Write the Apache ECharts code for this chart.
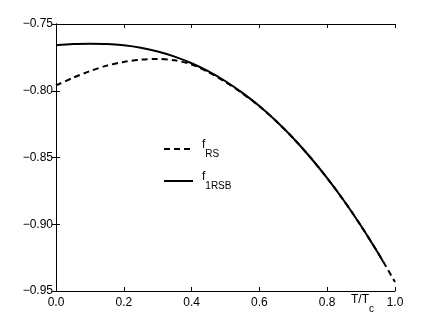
<!DOCTYPE html>
<html>
<head>
<meta charset="utf-8">
<script src="https://cdn.jsdelivr.net/npm/echarts@6/dist/echarts.min.js"></script>
<style>
  html, body { margin: 0; padding: 0; background: #fff; }
  #chart { width: 436px; height: 328px; }
</style>
</head>
<body>
<div id="chart"></div>
<script>
// f_RS (dashed) and f_1RSB (solid) against T/Tc
const rsT = [0, 0.05, 0.1, 0.15, 0.2, 0.25, 0.3, 0.35, 0.4, 0.45, 0.5, 0.55, 0.6, 0.65, 0.7, 0.75, 0.8, 0.85, 0.9, 0.95, 1.0]
const rsF = [-0.7960, -0.7903, -0.7853, -0.7812, -0.7784, -0.7767, -0.7762, -0.7772, -0.7803, -0.7862, -0.7935, -0.8020, -0.8116, -0.8229, -0.8356, -0.8498, -0.8655, -0.8826, -0.9013, -0.9215, -0.9433]
const rsbT = [0, 0.05, 0.1, 0.15, 0.2, 0.25, 0.3, 0.35, 0.4, 0.45, 0.5, 0.55, 0.6, 0.65, 0.7, 0.75, 0.8, 0.85, 0.9, 0.95, 0.965]
const rsbF = [-0.7660, -0.7650, -0.7648, -0.7650, -0.7660, -0.7678, -0.7706, -0.7744, -0.7794, -0.7855, -0.7929, -0.8016, -0.8115, -0.8229, -0.8356, -0.8498, -0.8655, -0.8826, -0.9013, -0.9215, -0.9280]
const xTicks = [0, 0.2, 0.4, 0.6, 0.8, 1.0]
const yTicks = [-0.95, -0.90, -0.85, -0.80, -0.75]

const font = 'Liberation Sans'
const pairs = (xs, ys) => xs.map((x, i) => [x, ys[i]])
const minus = s => s.replace('-', '\u2212')

const frame = {lineStyle: {color: '#000', width: 1}}
const inTick = {inside: true, length: 4, lineStyle: {color: '#000', width: 1}}

const option = {
  animation: false,
  color: ['#000', '#000'],
  grid: {left: 56, right: 41, top: 24, bottom: 37},
  legend: {
    orient: 'vertical',
    left: 158,
    top: 134,
    itemWidth: 29,
    itemHeight: 12,
    itemGap: 12,
    data: ['rs', 'rsb'],
    itemStyle: {color: 'rgba(0,0,0,0)', opacity: 0, borderWidth: 0},
    formatter: n => n === 'rs' ? '{f|f}{s|RS}' : '{f|f}{s|1RSB}',
    textStyle: {
      rich: {
        f: {fontFamily: font, fontSize: 12, color: '#000', verticalAlign: 'top', lineHeight: 20, padding: [0, 0, 0, 4]},
        s: {fontFamily: font, fontSize: 10, color: '#000', verticalAlign: 'bottom', lineHeight: 20}
      }
    }
  },
  xAxis: [{
    type: 'value', min: 0, max: 1, interval: 0.2,
    axisLine: frame, axisTick: inTick, splitLine: {show: false},
    axisLabel: {
      fontFamily: font, fontSize: 12, color: '#000', margin: 6,
      formatter: v => xTicks.some(t => Math.abs(t - v) < 1e-9) ? v.toFixed(1) : ''
    }
  }, {
    type: 'value', min: 0, max: 1, interval: 0.2, position: 'top',
    axisLine: frame, axisTick: inTick, splitLine: {show: false}, axisLabel: {show: false}
  }],
  yAxis: [{
    type: 'value', min: -0.95, max: -0.75, interval: 0.05,
    axisLine: frame, axisTick: inTick, splitLine: {show: false},
    axisLabel: {
      fontFamily: font, fontSize: 12, color: '#000', margin: 3,
      formatter: v => yTicks.some(t => Math.abs(t - v) < 1e-9) ? minus(v.toFixed(2)) : ''
    }
  }, {
    type: 'value', min: -0.95, max: -0.75, interval: 0.05, position: 'right',
    axisLine: frame, axisTick: inTick, splitLine: {show: false}, axisLabel: {show: false}
  }],
  graphic: [{
    type: 'text', left: 351, top: 294,
    style: {
      text: '{t|T/T}{c|c}',
      rich: {
        t: {fontFamily: font, fontSize: 12, fill: '#000', verticalAlign: 'top', lineHeight: 20},
        c: {fontFamily: font, fontSize: 10, fill: '#000', verticalAlign: 'bottom', lineHeight: 20}
      }
    }
  }],
  series: [{
    name: 'rs', type: 'line', data: pairs(rsT, rsF), smooth: 0.3, symbol: 'none',
    itemStyle: {color: '#000'},
    lineStyle: {color: '#000', width: 2, type: [6, 4]}, z: 2
  }, {
    name: 'rsb', type: 'line', data: pairs(rsbT, rsbF), smooth: 0.3, symbol: 'none',
    itemStyle: {color: '#000'},
    lineStyle: {color: '#000', width: 2, type: 'solid'}, z: 3
  }]
}

echarts.init(document.getElementById('chart')).setOption(option)
</script>
</body>
</html>
